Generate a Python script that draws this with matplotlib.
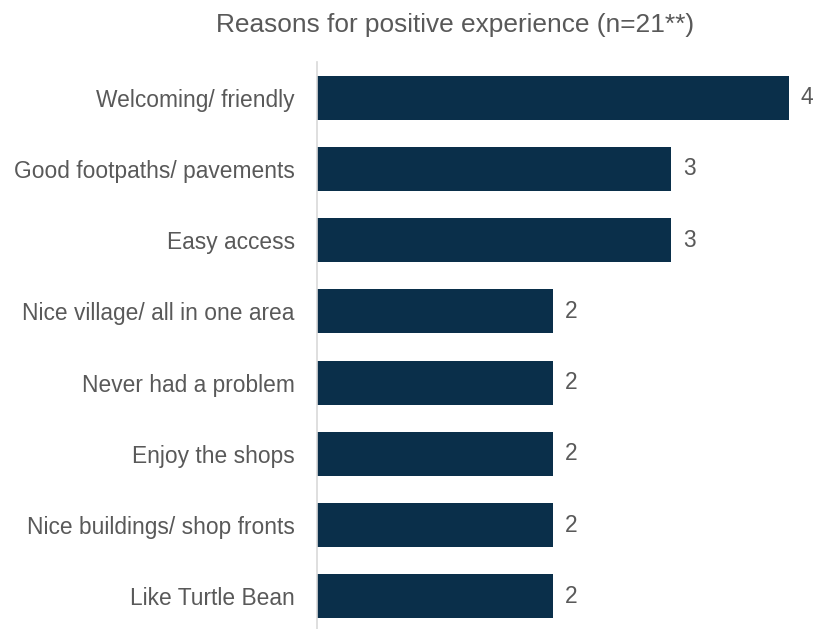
import matplotlib
matplotlib.use("Agg")
import matplotlib.pyplot as plt

categories = [
    "Welcoming/ friendly",
    "Good footpaths/ pavements",
    "Easy access",
    "Nice village/ all in one area",
    "Never had a problem",
    "Enjoy the shops",
    "Nice buildings/ shop fronts",
    "Like Turtle Bean",
]
counts = [4, 3, 3, 2, 2, 2, 2, 2]
title = "Reasons for positive experience (n=21**)"

BAR_COLOR = "#0A2F4A"
TEXT_COLOR = "#595959"
AXIS_COLOR = "#D9D9D9"
FONT = "Liberation Sans"
FS = 16.4
TITLE_FS = 18.9

W, H = 816, 629
fig = plt.figure(figsize=(W / 100, H / 100), dpi=100)
left, right = 317, 812.6
top, bottom = 62, 632
ax = fig.add_axes([left / W, 1 - bottom / H, (right - left) / W, (bottom - top) / H])

y = list(range(len(categories)))
ax.barh(y, counts, height=0.617, color=BAR_COLOR)
ax.set_xlim(0, 4.2)
ax.set_ylim(len(categories) - 0.5, -0.5)

ax.set_yticks(y)
ax.set_yticklabels(categories, fontsize=FS, color=TEXT_COLOR, family=FONT)
ax.tick_params(axis="y", length=0, pad=16)
ax.set_xticks([])
for side in ["top", "right", "bottom"]:
    ax.spines[side].set_visible(False)
ax.spines["left"].set_color(AXIS_COLOR)
ax.spines["left"].set_linewidth(1.2)

for yi, v in zip(y, counts):
    ax.text(v + 0.1, yi, str(v), va="center", ha="left",
            fontsize=FS, color=TEXT_COLOR, family=FONT)

fig.text(455 / W, 1 - 32 / H, title, ha="center", va="baseline",
         fontsize=TITLE_FS, color=TEXT_COLOR, family=FONT)

fig.savefig("out.png", dpi=100)
